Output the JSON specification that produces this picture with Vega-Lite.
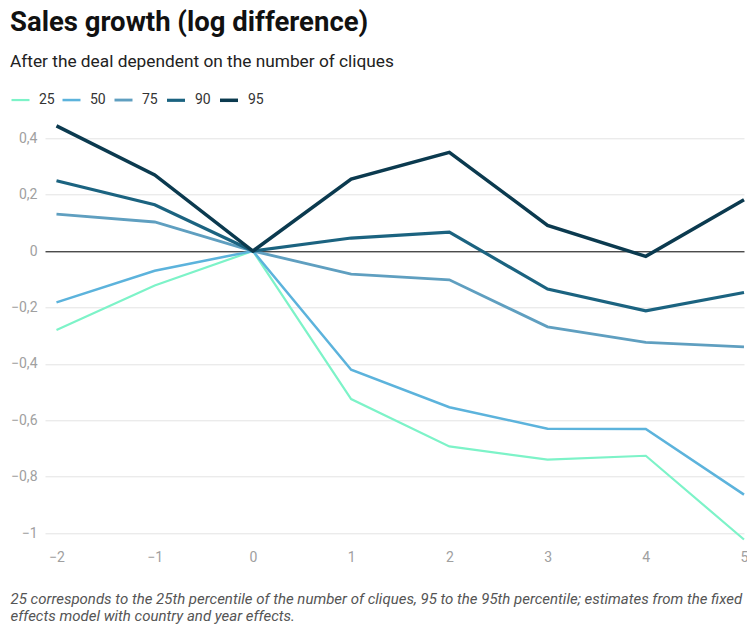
{
  "$schema": "https://vega.github.io/schema/vega-lite/v6.json",
  "width": 699,
  "height": 423,
  "autosize": {"type": "none"},
  "padding": {"left": 45, "top": 121.3, "right": 3, "bottom": 83.7},
  "background": "white",
  "config": {
    "font": "Roboto",
    "view": {"stroke": null},
    "title": {"font": "Roboto", "subtitleFont": "Roboto"}
  },
  "title": {
    "text": "Sales growth (log difference)",
    "subtitle": "After the deal dependent on the number of cliques",
    "anchor": "start",
    "frame": "group",
    "dx": -35,
    "offset": 19,
    "fontSize": 27.5,
    "fontWeight": "bold",
    "color": "#111111",
    "subtitleFontSize": 17.3,
    "subtitleColor": "#222222",
    "subtitlePadding": 17
  },
  "data": {
    "values": [
      {"t": -2, "p": "25", "v": -0.28},
      {"t": -1, "p": "25", "v": -0.122},
      {"t": 0, "p": "25", "v": 0},
      {"t": 1, "p": "25", "v": -0.525},
      {"t": 2, "p": "25", "v": -0.693},
      {"t": 3, "p": "25", "v": -0.74},
      {"t": 4, "p": "25", "v": -0.726},
      {"t": 5, "p": "25", "v": -1.023},
      {"t": -2, "p": "50", "v": -0.182},
      {"t": -1, "p": "50", "v": -0.07},
      {"t": 0, "p": "50", "v": 0},
      {"t": 1, "p": "50", "v": -0.421},
      {"t": 2, "p": "50", "v": -0.554},
      {"t": 3, "p": "50", "v": -0.63},
      {"t": 4, "p": "50", "v": -0.631},
      {"t": 5, "p": "50", "v": -0.864},
      {"t": -2, "p": "75", "v": 0.131},
      {"t": -1, "p": "75", "v": 0.103},
      {"t": 0, "p": "75", "v": 0},
      {"t": 1, "p": "75", "v": -0.082},
      {"t": 2, "p": "75", "v": -0.102},
      {"t": 3, "p": "75", "v": -0.269},
      {"t": 4, "p": "75", "v": -0.324},
      {"t": 5, "p": "75", "v": -0.34},
      {"t": -2, "p": "90", "v": 0.249},
      {"t": -1, "p": "90", "v": 0.164},
      {"t": 0, "p": "90", "v": 0},
      {"t": 1, "p": "90", "v": 0.046},
      {"t": 2, "p": "90", "v": 0.067},
      {"t": 3, "p": "90", "v": -0.135},
      {"t": 4, "p": "90", "v": -0.212},
      {"t": 5, "p": "90", "v": -0.147},
      {"t": -2, "p": "95", "v": 0.444},
      {"t": -1, "p": "95", "v": 0.27},
      {"t": 0, "p": "95", "v": 0},
      {"t": 1, "p": "95", "v": 0.255},
      {"t": 2, "p": "95", "v": 0.35},
      {"t": 3, "p": "95", "v": 0.091},
      {"t": 4, "p": "95", "v": -0.019},
      {"t": 5, "p": "95", "v": 0.182}
    ]
  },
  "mark": {"type": "line", "strokeJoin": "miter", "strokeCap": "butt", "clip": false},
  "encoding": {
    "x": {
      "field": "t",
      "type": "quantitative",
      "scale": {"domain": [-2.117, 5], "nice": false, "zero": false},
      "axis": {
        "values": [-2, -1, 0, 1, 2, 3, 4, 5],
        "format": "d",
        "grid": false,
        "domain": false,
        "ticks": false,
        "labelFont": "Roboto",
        "labelFontSize": 14,
        "labelColor": "#a0a0a0",
        "labelPadding": 6,
        "labelFlush": false,
        "labelOverlap": false,
        "title": ["25 corresponds to the 25th percentile of the number of cliques, 95 to the 95th percentile; estimates from the fixed", "effects model with country and year effects."],
        "titleFont": "Roboto",
        "titleFontStyle": "italic",
        "titleFontWeight": "normal",
        "titleFontSize": 15,
        "titleColor": "#555555",
        "titleAnchor": "start",
        "titleAlign": "left",
        "titleBaseline": "top",
        "titleX": -35,
        "titleY": 47,
        "titleLineHeight": 17
      }
    },
    "y": {
      "field": "v",
      "type": "quantitative",
      "scale": {"domain": [-1.04, 0.46], "nice": false, "zero": false},
      "axis": {
        "values": [-1, -0.8, -0.6, -0.4, -0.2, 0, 0.2, 0.4],
        "labelExpr": "replace(format(datum.value, '~g'), '.', ',')",
        "domain": false,
        "ticks": false,
        "grid": true,
        "gridColor": {"condition": {"test": "datum.value === 0", "value": "#000000"}, "value": "#e3e3e3"},
        "gridWidth": 1,
        "labelFont": "Roboto",
        "labelFontSize": 14,
        "labelColor": "#a0a0a0",
        "labelPadding": 8,
        "title": null
      }
    },
    "color": {
      "field": "p",
      "type": "nominal",
      "scale": {
        "domain": ["25", "50", "75", "90", "95"],
        "range": ["#7df3c8", "#5cb3dc", "#5f9fc0", "#1b6380", "#0b3a4f"]
      },
      "legend": {
        "orient": "none",
        "direction": "horizontal",
        "legendX": -35,
        "legendY": -32,
        "title": null,
        "padding": 0,
        "symbolType": "stroke",
        "symbolSize": 324,
        "symbolStrokeWidth": 3.5,
        "labelFont": "Roboto",
        "labelFontSize": 14,
        "labelColor": "#333333",
        "labelOffset": 8,
        "columnPadding": 2
      }
    },
    "strokeWidth": {
      "field": "p",
      "type": "nominal",
      "scale": {"domain": ["25", "50", "75", "90", "95"], "range": [2.2, 3.5, 3.5, 3.5, 3.5]},
      "legend": null
    }
  }
}
